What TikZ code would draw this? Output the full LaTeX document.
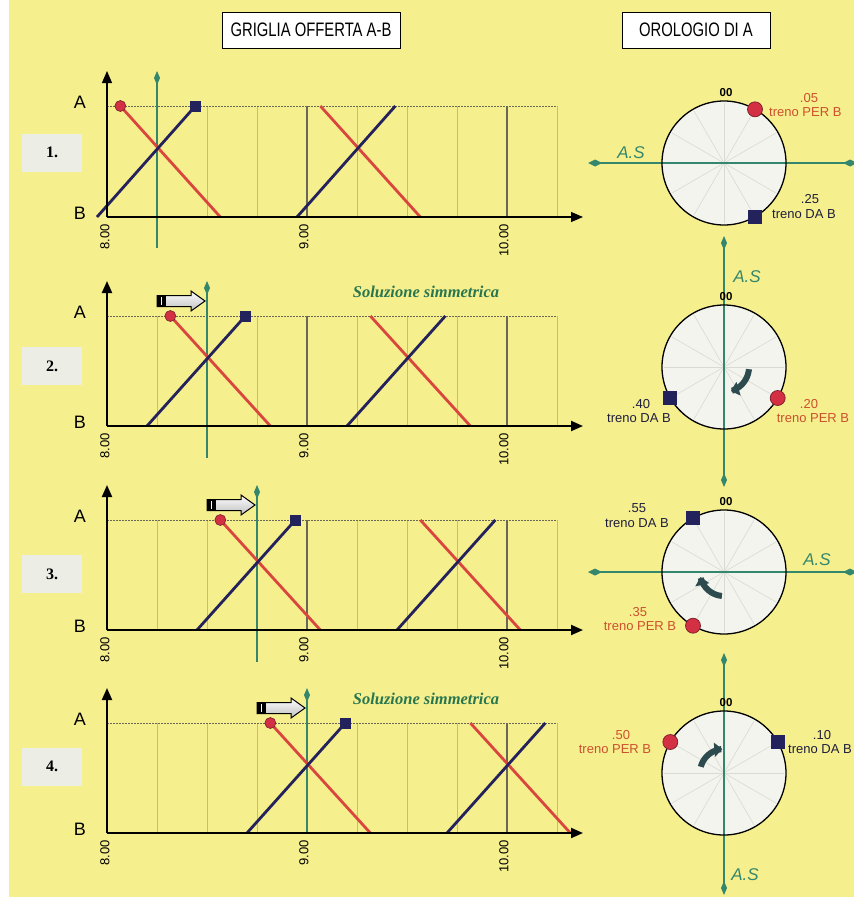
\documentclass[tikz,border=0pt]{standalone}
\usepackage{fontspec}
\setmainfont{Liberation Sans}
\newfontfamily\serifbf{Liberation Serif}
\newfontfamily\narrowsans[FakeStretch=0.76]{Liberation Sans}
\usetikzlibrary{arrows.meta}
\definecolor{bgyellow}{RGB}{246,239,142}
\definecolor{asgreen}{RGB}{52,135,108}
\definecolor{solgreen}{RGB}{40,118,80}
\definecolor{trainred}{RGB}{217,70,62}
\definecolor{dotred}{RGB}{212,48,68}
\definecolor{dotedge}{RGB}{120,30,40}
\definecolor{navy}{RGB}{36,34,92}
\definecolor{lblred}{RGB}{205,80,45}
\definecolor{lblnavy}{RGB}{30,30,60}
\definecolor{gridlight}{RGB}{190,187,155}
\definecolor{griddark}{RGB}{105,103,90}
\definecolor{numboxc}{RGB}{236,237,228}
\definecolor{facec}{RGB}{244,244,238}
\definecolor{spokec}{RGB}{218,218,212}
\definecolor{rotarrow}{RGB}{45,75,78}

% #1 id, #2 A y, #3 B y, #4 green (min after 8.00), #5 green bottom, #6 axis width
\newcommand\tpanel[6]{%
  \foreach \m in {15,30,45,75,90,105,135}
    \draw[gridthin] ({107+\m*10/3},#2) -- ({107+\m*10/3},#3);
  \foreach \m in {60,120}
    \draw[gridhour] ({107+\m*10/3},#2) -- ({107+\m*10/3},#3);
  \draw[aline] (107,#2) -- (557,#2);
  \draw[asline] ({107+#4*10/3},{#2-28}) -- ({107+#4*10/3},#5);
  \fill[asgreen] ({107+#4*10/3},{#2-35}) -- ++(3,7) -- ++(-3,7) -- ++(-3,-7) -- cycle;
  \foreach \o in {0,60} {
    \draw[redtrain] ({107+(#4-11+\o)*10/3},#2) -- ({107+(#4+19+\o)*10/3},#3);
    \draw[bluetrain] ({107+(#4-18+\o)*10/3},#3) -- ({107+(#4+11.5+\o)*10/3},#2);
  }
  \draw[axisline, line width=#6] (107,#3) -- (107,{#2-35});
  \draw[axisline, line width=#6] (107,#3) -- (583,#3);
  \fill[dotred, draw=dotedge, line width=0.6pt] ({107+(#4-11)*10/3},#2) circle (5.5);
  \fill[navy] ({107+(#4+11.5)*10/3-5.5},{#2-5.5}) rectangle ++(11,11);
  \node[ablbl] (A#1) at (80,{#2-4}) {A};
  \node[ablbl] (B#1) at (80,{#3-4}) {B};
  \node[hrlbl] (ta#1) at (105,{#3+7}) {8.00};
  \node[hrlbl] (tb#1) at (304,{#3+7}) {9.00};
  \node[hrlbl] (tc#1) at (504,{#3+7}) {10.00};
}
% #1 tail x, #2 centre y
\newcommand\blockarr[2]{%
  \shade[top color=white, bottom color=gray!50, draw=black, line width=1pt]
    (#1,{#2-5.5}) -- ({#1+34},{#2-5.5}) -- ({#1+34},{#2-10}) -- ({#1+48},#2)
    -- ({#1+34},{#2+10}) -- ({#1+34},{#2+5.5}) -- (#1,{#2+5.5}) -- cycle;
  \fill[black] (#1,{#2-6}) rectangle ({#1+9},{#2+6});
  \draw[white, line width=1.2pt] ({#1+4.5},{#2-4}) -- ({#1+4.5},{#2+4});
}
% #1 id, #2 cx, #3 cy
\newcommand\clockface[3]{%
  \fill[facec] (#2,#3) circle (62);
  \foreach \a in {0,30,...,330} \draw[spokeline] (#2,#3) -- ++(\a:60);
}
\newcommand\clockrim[3]{%
  \draw[line width=1.3pt] (#2,#3) circle (62);
  \node[zerolbl] (z#1) at ({#2+2},{#3-70}) {00};
}
% #1 cx, #2 cy, #3 minute
\newcommand\redmark[3]{%
  \fill[dotred, draw=dotedge, line width=0.7pt] ({#1+62*sin(6*#3)},{#2-62*cos(6*#3)}) circle (7.5);}
\newcommand\bluemark[3]{%
  \fill[navy] ({#1+62*sin(6*#3)-7},{#2-62*cos(6*#3)-7}) rectangle ++(14,14);}
\newcommand\hdiam[2]{\fill[asgreen] ({#1-7},#2) -- ++(7,-3.5) -- ++(7,3.5) -- ++(-7,3.5) -- cycle;}
\newcommand\vdiam[2]{\fill[asgreen] (#1,{#2-7}) -- ++(3,7) -- ++(-3,7) -- ++(-3,-7) -- cycle;}

\begin{document}
\begin{tikzpicture}[x=1pt,y=-1pt,
  gridthin/.style={draw=gridlight, line width=0.7pt},
  gridhour/.style={draw=griddark, line width=1.1pt},
  aline/.style={draw=griddark, line width=0.8pt, dash pattern=on 2pt off 1pt},
  asline/.style={draw=asgreen, line width=1.1pt},
  redtrain/.style={draw=trainred, line width=2.8pt},
  bluetrain/.style={draw=navy, line width=2.8pt},
  axisline/.style={draw=black, -{Triangle[length=12pt,width=10pt]}},
  ablbl/.style={font=\fontsize{18}{20}\selectfont, inner sep=0pt},
  hrlbl/.style={font=\fontsize{13}{15}\selectfont, rotate=90, anchor=east, inner sep=0pt},
  numbox/.style={fill=numboxc, minimum width=60pt, minimum height=38pt, inner sep=0pt,
    font=\serifbf\bfseries\fontsize{16}{18}\selectfont},
  hdr/.style={draw=black, line width=1pt, fill=white, inner sep=0pt,
    minimum height=36pt, font=\narrowsans\fontsize{19.5}{22}\selectfont},
  sol/.style={text=solgreen, font=\serifbf\bfseries\itshape\fontsize{16.5}{19}\selectfont, inner sep=0pt},
  spokeline/.style={draw=spokec, line width=0.6pt},
  zerolbl/.style={font=\bfseries\fontsize{11.5}{12}\selectfont, inner sep=0pt},
  aslbl/.style={text=asgreen, font=\itshape\fontsize{17}{19}\selectfont, inner sep=0pt},
  redlbl/.style={text=lblred, font=\fontsize{13}{14}\selectfont, inner sep=0pt},
  navylbl/.style={text=lblnavy, font=\fontsize{13}{14}\selectfont, inner sep=0pt},
  rotarr/.style={draw=rotarrow, line width=6pt, -{Triangle[length=8pt,width=14pt]}}
]
\useasboundingbox (0,0) rectangle (854,897);
\fill[bgyellow] (0,0) rectangle (854,897);
\fill[white] (0,0) rectangle (9,897);

% headers
\node[hdr, minimum width=178pt] (h1) at (311,30) {GRIGLIA OFFERTA A-B};
\node[hdr, minimum width=148pt] (h2) at (696,30) {OROLOGIO DI A};

% panel numbers
\node[numbox] (n1) at (52,152.5) {1.};
\node[numbox] (n2) at (52,366) {2.};
\node[numbox] (n3) at (52,574) {3.};
\node[numbox] (n4) at (52,766.5) {4.};

% train grids
\tpanel{1}{106}{217}{15}{248}{1.2pt}
\tpanel{2}{316}{426}{30}{458}{2pt}
\tpanel{3}{520}{630}{45}{662}{2pt}
\tpanel{4}{723}{833}{60}{833}{2pt}

\blockarr{157}{301}
\blockarr{207}{505}
\blockarr{257}{708}

\node[sol] (s2) at (426,292) {Soluzione simmetrica};
\node[sol] (s4) at (426,699) {Soluzione simmetrica};

% clock 1
\clockface{1}{724}{163}
\draw[asline] (595,163) -- (850,163);
\hdiam{595}{163}\hdiam{850}{163}
\clockrim{1}{724}{163}
\redmark{724}{163}{5}
\bluemark{724}{163}{25}
\node[aslbl] (as1) at (631,153) {A.S};
\node[redlbl] (p1) at (809,98) {.05};
\node[redlbl, anchor=west] (q1) at (769,112) {treno PER B};
\node[navylbl] (p1b) at (810,199) {.25};
\node[navylbl, anchor=west] (q1b) at (772,214) {treno DA B};

% clock 2
\clockface{2}{724}{367}
\draw[asline] (724,243) -- (724,480);
\vdiam{724}{243}\vdiam{724}{480}
\clockrim{2}{724}{367}
\draw[rotarr] plot[domain=5:74, samples=25, smooth] ({724+25*cos(\x)},{367+25*sin(\x)});
\redmark{724}{367}{20}
\bluemark{724}{367}{40}
\node[aslbl] (as2) at (747,277) {A.S};
\node[redlbl] (p2) at (809,404) {.20};
\node[redlbl] (q2) at (813,418) {treno PER B};
\node[navylbl] (p2b) at (641,404) {.40};
\node[navylbl] (q2b) at (639,418) {treno DA B};

% clock 3
\clockface{3}{724}{572}
\draw[asline] (595,572) -- (850,572);
\hdiam{595}{572}\hdiam{850}{572}
\clockrim{3}{724}{572}
\draw[rotarr] plot[domain=95:168, samples=25, smooth] ({724+24*cos(\x)},{572+24*sin(\x)});
\redmark{724}{572}{35}
\bluemark{724}{572}{55}
\node[aslbl] (as3) at (817,560) {A.S};
\node[navylbl] (p3b) at (637,508) {.55};
\node[navylbl] (q3b) at (637,523) {treno DA B};
\node[redlbl] (p3) at (638,612) {.35};
\node[redlbl] (q3) at (640,626) {treno PER B};

% clock 4
\clockface{4}{724}{773}
\draw[asline] (724,660) -- (724,888);
\vdiam{724}{660}\vdiam{724}{888}
\clockrim{4}{724}{773}
\draw[rotarr] plot[domain=195:266, samples=25, smooth] ({724+24*cos(\x)},{773+24*sin(\x)});
\redmark{724}{773}{50}
\bluemark{724}{773}{10}
\node[aslbl] (as4) at (745,875) {A.S};
\node[redlbl] (p4) at (621,735) {.50};
\node[redlbl] (q4) at (615,749) {treno PER B};
\node[navylbl] (p4b) at (822,735) {.10};
\node[navylbl, anchor=west] (q4b) at (788,749) {treno DA B};
\end{tikzpicture}
\end{document}
